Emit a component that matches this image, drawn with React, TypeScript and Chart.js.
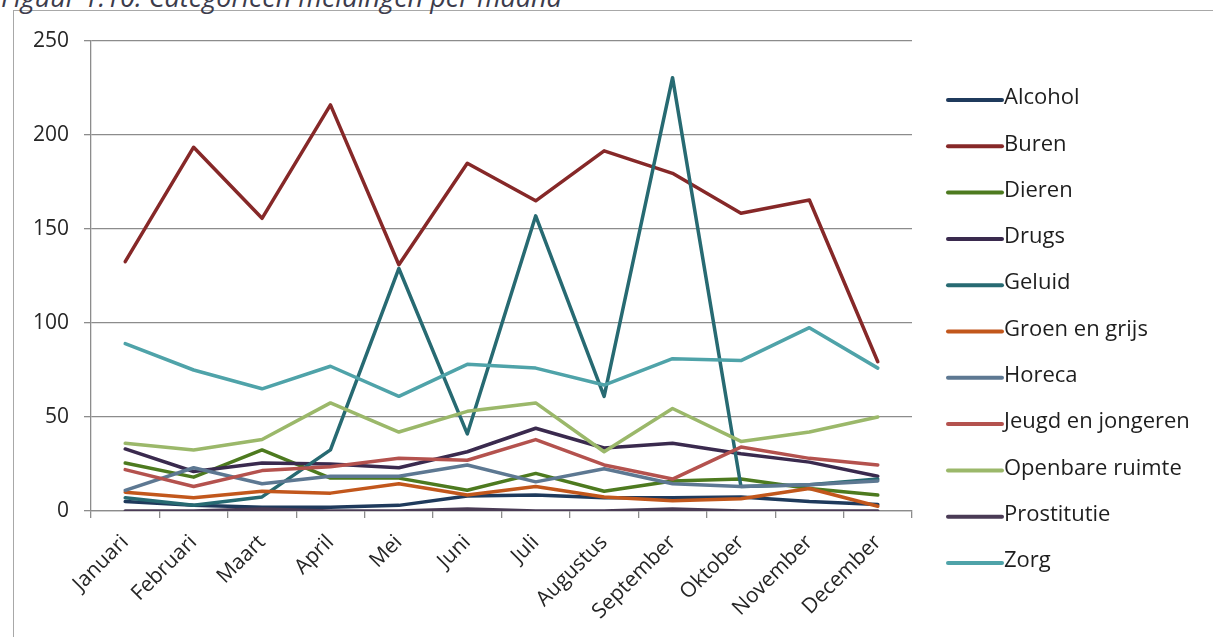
import React, { useEffect, useRef } from "react";
import { Chart, registerables } from "chart.js";

Chart.register(...registerables);

const months = [
  "Januari", "Februari", "Maart", "April", "Mei", "Juni",
  "Juli", "Augustus", "September", "Oktober", "November", "December",
];

const alcohol = [5, 3, 2, 2, 3, 8, 8.5, 7, 7, 7.5, 5, 3.5];
const buren = [132.6, 193.5, 155.7, 216, 131, 185, 165, 191.6, 179.6, 158.4, 165.4, 79.4];
const dieren = [25.5, 18, 32.5, 17.5, 17.5, 11, 20, 10.5, 16, 17, 12, 8.5];
const drugs = [33, 21, 25.5, 25, 23, 31.5, 44, 33.5, 36, 30.5, 26, 18.5];
const geluid = [7, 3, 7.5, 32.5, 129, 41, 157, 61, 230.5, 13, 14, 17];
const groenEnGrijs = [10, 7, 10.5, 9.5, 14.5, 8.5, 13, 7.5, 5.5, 6.5, 12, 2.5];
const horeca = [11, 23, 14.5, 18.5, 18.5, 24.5, 15.5, 22.5, 14.5, 13, 14, 16];
const jeugdEnJongeren = [22, 13, 21.5, 23.5, 28, 27, 38, 24.5, 17, 34, 28, 24.5];
const openbareRuimte = [36, 32.5, 38, 57.5, 42, 53, 57.5, 31.5, 54.5, 37, 42, 50];
const prostitutie = [0, 0, 1, 0, 0, 1, 0, 0, 1, 0, 0, 0];
const zorg = [89, 75, 65, 77, 61, 78, 76, 67, 81, 80, 97.5, 76];

const seriesNames = [
  "Alcohol", "Buren", "Dieren", "Drugs", "Geluid", "Groen en grijs",
  "Horeca", "Jeugd en jongeren", "Openbare ruimte", "Prostitutie", "Zorg",
];
const seriesValues = [
  alcohol, buren, dieren, drugs, geluid, groenEnGrijs,
  horeca, jeugdEnJongeren, openbareRuimte, prostitutie, zorg,
];
const seriesColors = [
  "#1f3a5c", "#862828", "#4d7a1f", "#3a2a4e", "#276a72", "#c2571c",
  "#5d7892", "#b4524e", "#9bb86a", "#4a3b55", "#4fa3a9",
];

const yTicks = [0, 50, 100, 150, 200, 250];

const FONT = '"Open Sans", "DejaVu Sans", sans-serif';

const sideLegend = {
  id: "sideLegend",
  afterDraw(chart: any) {
    const ctx = chart.ctx;
    const area = chart.chartArea;
    const x0 = area.right + 36;
    ctx.save();
    chart.data.datasets.forEach((ds: any, i: number) => {
      const y = area.top + 59 + i * 46.3;
      ctx.strokeStyle = ds.borderColor;
      ctx.lineWidth = 4;
      ctx.lineCap = "round";
      ctx.beginPath();
      ctx.moveTo(x0, y);
      ctx.lineTo(x0 + 54, y);
      ctx.stroke();
      ctx.fillStyle = "#1e1e1e";
      ctx.font = `22px ${FONT}`;
      ctx.textBaseline = "middle";
      ctx.textAlign = "left";
      ctx.fillText(ds.label, x0 + 56, y - 2);
    });
    ctx.restore();
  },
};

export default function App() {
  const ref = useRef<HTMLCanvasElement>(null);

  useEffect(() => {
    if (!ref.current) return;
    const chart = new Chart(ref.current, {
      type: "line",
      data: {
        labels: months,
        datasets: seriesNames.map((name, i) => ({
          label: name,
          data: seriesValues[i],
          borderColor: seriesColors[i],
          backgroundColor: seriesColors[i],
          borderWidth: 3.5,
          pointRadius: 0,
          pointHoverRadius: 0,
          tension: 0,
          fill: false,
          borderJoinStyle: "round" as const,
          borderCapStyle: "round" as const,
          order: seriesNames.length - 1 - i,
        })),
      },
      options: {
        responsive: false,
        maintainAspectRatio: false,
        animation: false,
        layout: { padding: { left: 0, top: 41, right: 301, bottom: 0 } },
        plugins: {
          legend: { display: false },
          tooltip: { enabled: false },
          title: { display: false },
        },
        scales: {
          x: {
            type: "category",
            offset: true,
            grid: {
              offset: true,
              drawOnChartArea: false,
              drawTicks: true,
              tickLength: 7,
              color: "#8c8c8c",
              lineWidth: 1.3,
            },
            border: { display: true, color: "#8c8c8c", width: 1.3 },
            ticks: {
              autoSkip: false,
              minRotation: 45,
              maxRotation: 45,
              font: { family: FONT, size: 21 },
              color: "#262626",
              padding: 12,
            },
            afterFit: (s: any) => {
              s.height = 126;
            },
          },
          y: {
            min: 0,
            max: 250,
            afterBuildTicks: (s: any) => {
              s.ticks = yTicks.map((v) => ({ value: v }));
            },
            ticks: {
              font: { family: FONT, size: 21 },
              color: "#262626",
              padding: 15,
            },
            grid: { color: "#8c8c8c", lineWidth: 1.3, tickLength: 7 },
            border: { display: true, color: "#8c8c8c", width: 1.3 },
            afterFit: (s: any) => {
              s.width = 91;
            },
          },
        },
      },
      plugins: [sideLegend],
    });
    return () => chart.destroy();
  }, []);

  return (
    <div
      style={{
        position: "fixed",
        left: 0,
        top: 0,
        width: 1213,
        height: 637,
        overflow: "hidden",
        background: "#ffffff",
      }}
    >
      <div
        style={{
          position: "absolute",
          left: 13,
          top: 10,
          width: 1300,
          height: 700,
          border: "1.5px solid #a8a8a8",
          boxSizing: "border-box",
        }}
      />
      <div
        style={{
          position: "absolute",
          left: 1,
          top: -17,
          fontFamily: FONT,
          fontStyle: "italic",
          fontSize: 27,
          lineHeight: "27px",
          color: "#3c3c4c",
          whiteSpace: "nowrap",
        }}
      >
        Figuur 1.10: Categorieën meldingen per maand
      </div>
      <canvas
        ref={ref}
        width={1213}
        height={637}
        style={{ position: "absolute", left: 0, top: 0 }}
      />
    </div>
  );
}
